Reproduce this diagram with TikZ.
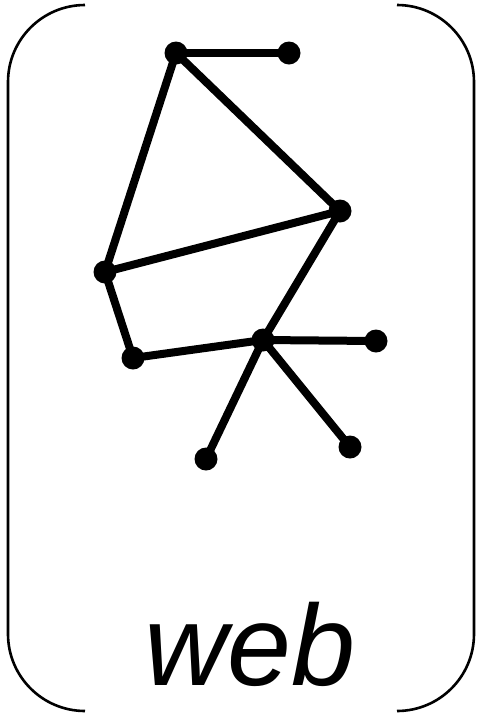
\documentclass[tikz,border=0pt]{standalone}
\usepackage{fontspec}
\setmainfont{Liberation Sans}
\begin{document}
\begin{tikzpicture}[x=1pt,y=-1pt,
  dot/.style={circle,fill=black,inner sep=0pt,minimum size=23pt},
  edge/.style={line width=8pt},
  bracket/.style={line width=2.6pt}]
\useasboundingbox (0,0) rectangle (480,716);
\draw[bracket] (85,5) arc[start angle=-90,end angle=-180,radius=77] -- (8,634) arc[start angle=180,end angle=90,radius=77];
\draw[bracket] (397,5) arc[start angle=-90,end angle=0,radius=77] -- (474,634) arc[start angle=0,end angle=90,radius=77];
\node[dot] (a) at (176,53) {};
\node[dot] (b) at (289,53) {};
\node[dot] (c) at (340,211) {};
\node[dot] (d) at (105,272) {};
\node[dot] (e) at (133,358) {};
\node[dot] (f) at (263,340) {};
\node[dot] (g) at (376,341) {};
\node[dot] (h) at (206,459) {};
\node[dot] (i) at (350,447) {};
\draw[edge] (a.center) -- (b.center);
\draw[edge] (a.center) -- (c.center);
\draw[edge] (a.center) -- (d.center);
\draw[edge] (d.center) -- (c.center);
\draw[edge] (d.center) -- (e.center);
\draw[edge] (e.center) -- (f.center);
\draw[edge] (f.center) -- (c.center);
\draw[edge] (f.center) -- (g.center);
\draw[edge] (f.center) -- (h.center);
\draw[edge] (f.center) -- (i.center);
\node[anchor=base,inner sep=0pt] (t) at (250,685) {\fontsize{115}{140}\selectfont\itshape web};
\end{tikzpicture}
\end{document}
